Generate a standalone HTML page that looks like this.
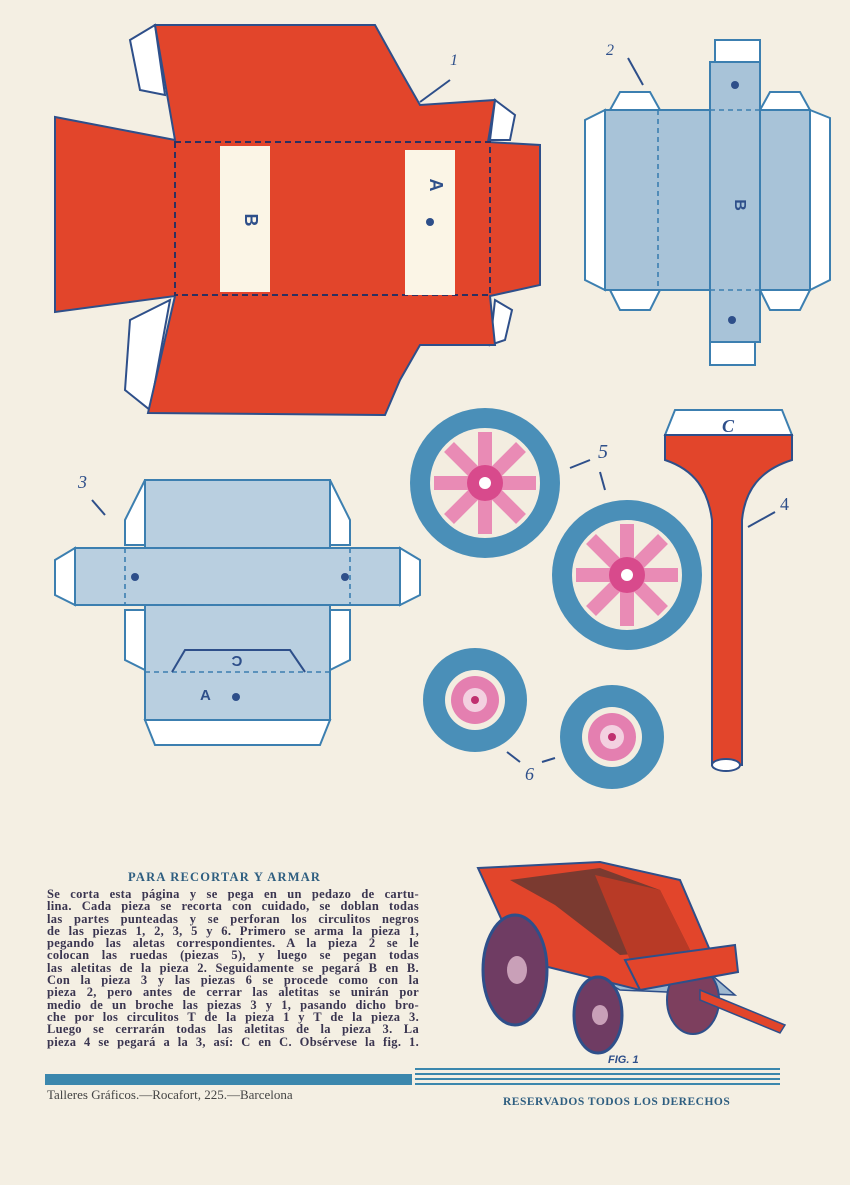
<!DOCTYPE html>
<html><head><meta charset="utf-8"><style>
body{margin:0;background:#f3eee2;}
.wrap{position:relative;width:850px;height:1185px;overflow:hidden;background:#f4efe3;}
svg{position:absolute;left:0;top:0}
.txt{position:absolute;left:47px;top:888px;width:372px;font:bold 12.5px/12.3px "Liberation Serif",serif;color:#3a3550;letter-spacing:.3px}
.txt div{text-align:justify;text-align-last:justify;white-space:nowrap;overflow:visible}
.title{position:absolute;left:128px;top:870px;font:bold 12.5px "Liberation Serif",serif;color:#2e5e80;letter-spacing:1.2px}
.f1{position:absolute;left:47px;top:1087px;font:13px "Liberation Serif",serif;color:#444}
.f2{position:absolute;left:503px;top:1096px;font:bold 11.5px "Liberation Serif",serif;color:#2e5e80;letter-spacing:.5px}
</style></head><body><div class="wrap">
<svg width="850" height="1185" viewBox="0 0 850 1185">
<g stroke="#2e4f8a" stroke-width="2" fill="#fff">
<polygon points="130,40 155,25 165,95 140,90"/>
<polygon points="495,100 515,115 510,140 490,140"/>
<polygon points="495,300 512,310 505,340 490,345"/>
<polygon points="130,320 170,300 150,410 125,390"/>
</g>
<polygon points="155,25 375,25 400,70 420,105 495,100 488,142 540,145 540,285 490,296 495,345 420,345 400,380 385,415 148,413 175,296 55,312 55,117 175,140" fill="#e2452b" stroke="#2e4f8a" stroke-width="2"/>
<rect x="175" y="142" width="315" height="153" fill="none" stroke="#2e3060" stroke-width="2" stroke-dasharray="6,4"/>
<rect x="220" y="146" width="50" height="146" fill="#fbf5e6"/>
<rect x="405" y="150" width="50" height="145" fill="#fbf5e6"/>
<text x="245" y="220" font-family="Liberation Sans" font-weight="bold" font-size="18" fill="#2e4f8a" transform="rotate(90 245 220)" text-anchor="middle">B</text>
<text x="430" y="185" font-family="Liberation Sans" font-weight="bold" font-size="18" fill="#2e4f8a" transform="rotate(90 430 185)" text-anchor="middle">A</text>
<circle cx="430" cy="222" r="4" fill="#2e4f8a"/>
<text x="450" y="65" font-family="Liberation Serif" font-style="italic" font-size="16" fill="#2e4f8a">1</text>
<line x1="450" y1="80" x2="420" y2="102" stroke="#2e4f8a" stroke-width="2"/>
<g stroke="#3c7fb0" stroke-width="2" fill="#fff">
<rect x="715" y="40" width="45" height="25"/><rect x="710" y="340" width="45" height="25"/>
<polygon points="585,120 605,110 605,290 585,280"/><polygon points="810,110 830,118 830,280 810,290"/>
<polygon points="610,110 620,92 650,92 660,110"/><polygon points="760,110 770,92 800,92 810,110"/>
<polygon points="610,290 620,310 650,310 660,290"/><polygon points="760,290 770,310 800,310 810,290"/>
</g>
<rect x="605" y="110" width="205" height="180" fill="#a8c3d8" stroke="#3c7fb0" stroke-width="2"/>
<rect x="710" y="62" width="50" height="280" fill="#a8c3d8" stroke="#3c7fb0" stroke-width="2"/>
<g stroke="#3c7fb0" stroke-width="1.6" stroke-dasharray="5,4" fill="none">
<line x1="658" y1="110" x2="658" y2="290"/><line x1="710" y1="110" x2="710" y2="290"/><line x1="760" y1="110" x2="760" y2="290"/>
<line x1="710" y1="110" x2="760" y2="110"/><line x1="710" y1="290" x2="760" y2="290"/>
</g>
<circle cx="735" cy="85" r="4" fill="#2e4f8a"/><circle cx="732" cy="320" r="4" fill="#2e4f8a"/>
<text x="735" y="205" font-family="Liberation Sans" font-weight="bold" font-size="16" fill="#2e4f8a" transform="rotate(90 735 205)" text-anchor="middle">B</text>
<text x="606" y="55" font-family="Liberation Serif" font-style="italic" font-size="16" fill="#2e4f8a">2</text>
<line x1="628" y1="58" x2="643" y2="85" stroke="#2e4f8a" stroke-width="2"/>
<g stroke="#3c7fb0" stroke-width="2" fill="#fff">
<polygon points="55,560 75,548 75,605 55,595"/><polygon points="400,548 420,560 420,595 400,605"/>
<polygon points="125,520 145,480 145,545 125,545"/><polygon points="330,480 350,520 350,545 330,545"/>
<polygon points="125,610 145,610 145,670 125,660"/><polygon points="330,610 350,610 350,660 330,670"/>
<polygon points="145,720 330,720 320,745 155,745"/>
</g>
<rect x="145" y="480" width="185" height="240" fill="#b9cfe0" stroke="#3c7fb0" stroke-width="2"/>
<rect x="75" y="548" width="325" height="57" fill="#b9cfe0" stroke="#3c7fb0" stroke-width="2"/>
<g stroke="#3c7fb0" stroke-width="1.6" stroke-dasharray="5,4" fill="none">
<line x1="145" y1="548" x2="330" y2="548"/><line x1="145" y1="605" x2="330" y2="605"/>
<line x1="145" y1="672" x2="330" y2="672"/><line x1="125" y1="548" x2="125" y2="605"/><line x1="350" y1="548" x2="350" y2="605"/>
</g>
<polyline points="172,672 185,650 290,650 305,672" fill="none" stroke="#2e4f8a" stroke-width="2"/>
<text x="237" y="668" font-family="Liberation Sans" font-weight="bold" font-size="15" fill="#2e4f8a" transform="rotate(180 237 662)" text-anchor="middle">C</text>
<text x="200" y="700" font-family="Liberation Sans" font-weight="bold" font-size="15" fill="#2e4f8a">A</text>
<circle cx="236" cy="697" r="4" fill="#2e4f8a"/><circle cx="135" cy="577" r="4" fill="#2e4f8a"/><circle cx="345" cy="577" r="4" fill="#2e4f8a"/>
<text x="78" y="488" font-family="Liberation Serif" font-style="italic" font-size="18" fill="#2e4f8a">3</text>
<line x1="92" y1="500" x2="105" y2="515" stroke="#2e4f8a" stroke-width="2"/>
<g>
<circle cx="485" cy="483" r="75" fill="#4a8fb8"/><circle cx="485" cy="483" r="55" fill="#f3ede0"/>
<g stroke="#e98bb5" stroke-width="14"><line x1="485" y1="432" x2="485" y2="534"/><line x1="434" y1="483" x2="536" y2="483"/><line x1="449" y1="447" x2="521" y2="519"/><line x1="521" y1="447" x2="449" y2="519"/></g>
<circle cx="485" cy="483" r="18" fill="#d84a8c"/><circle cx="485" cy="483" r="6" fill="#fff"/>
<circle cx="627" cy="575" r="75" fill="#4a8fb8"/><circle cx="627" cy="575" r="55" fill="#f3ede0"/>
<g stroke="#e98bb5" stroke-width="14"><line x1="627" y1="524" x2="627" y2="626"/><line x1="576" y1="575" x2="678" y2="575"/><line x1="591" y1="539" x2="663" y2="611"/><line x1="663" y1="539" x2="591" y2="611"/></g>
<circle cx="627" cy="575" r="18" fill="#d84a8c"/><circle cx="627" cy="575" r="6" fill="#fff"/>
<circle cx="475" cy="700" r="52" fill="#4a8fb8"/><circle cx="475" cy="700" r="30" fill="#f3ede0"/><circle cx="475" cy="700" r="24" fill="#e47fb0"/><circle cx="475" cy="700" r="12" fill="#f3d0e0"/><circle cx="475" cy="700" r="4" fill="#c03070"/>
<circle cx="612" cy="737" r="52" fill="#4a8fb8"/><circle cx="612" cy="737" r="30" fill="#f3ede0"/><circle cx="612" cy="737" r="24" fill="#e47fb0"/><circle cx="612" cy="737" r="12" fill="#f3d0e0"/><circle cx="612" cy="737" r="4" fill="#c03070"/>
</g>
<text x="598" y="458" font-family="Liberation Serif" font-style="italic" font-size="20" fill="#2e4f8a">5</text>
<line x1="590" y1="460" x2="570" y2="468" stroke="#2e4f8a" stroke-width="2"/><line x1="600" y1="472" x2="605" y2="490" stroke="#2e4f8a" stroke-width="2"/>
<text x="525" y="780" font-family="Liberation Serif" font-style="italic" font-size="18" fill="#2e4f8a">6</text>
<line x1="520" y1="762" x2="507" y2="752" stroke="#2e4f8a" stroke-width="2"/><line x1="542" y1="762" x2="555" y2="758" stroke="#2e4f8a" stroke-width="2"/>
<polygon points="665,435 675,410 782,410 792,435" fill="#fff" stroke="#3c7fb0" stroke-width="2"/>
<text x="722" y="432" font-family="Liberation Serif" font-style="italic" font-weight="bold" font-size="18" fill="#2e4f8a">C</text>
<path d="M665,435 L792,435 L792,460 C760,470 745,490 742,520 L742,765 L712,765 L712,520 C708,490 695,470 665,460 Z" fill="#e2452b" stroke="#2e4f8a" stroke-width="2"/>
<ellipse cx="726" cy="765" rx="14" ry="6" fill="#fff" stroke="#2e4f8a" stroke-width="2"/>
<text x="780" y="510" font-family="Liberation Serif" font-size="18" fill="#2e4f8a">4</text>
<line x1="775" y1="512" x2="748" y2="527" stroke="#2e4f8a" stroke-width="2"/>
<polygon points="560,955 700,965 735,995 620,990" fill="#9fb9d0" stroke="#2e4f8a" stroke-width="1.5"/>
<ellipse cx="693" cy="1000" rx="26" ry="34" fill="#7d3f5e" stroke="#2e4f8a" stroke-width="2"/>
<polygon points="478,868 600,862 680,880 712,955 640,990 520,960" fill="#e2452b" stroke="#2e4f8a" stroke-width="2"/>
<polygon points="510,880 600,868 660,890 690,950 620,955 555,905" fill="#7b3a30"/>
<polygon points="595,875 660,890 690,950 630,960" fill="#b83a26"/>
<polygon points="625,960 735,945 738,972 640,990" fill="#e2452b" stroke="#2e4f8a" stroke-width="2"/>
<polygon points="700,990 785,1025 780,1033 700,1000" fill="#e2452b" stroke="#2e4f8a" stroke-width="1.5"/>
<ellipse cx="515" cy="970" rx="32" ry="55" fill="#6f3c63" stroke="#2e4f8a" stroke-width="3"/>
<ellipse cx="517" cy="970" rx="10" ry="14" fill="#c9a0b8"/>
<ellipse cx="598" cy="1015" rx="24" ry="38" fill="#6f3c63" stroke="#2e4f8a" stroke-width="3"/>
<ellipse cx="600" cy="1015" rx="8" ry="10" fill="#c9a0b8"/>
<text x="608" y="1063" font-family="Liberation Sans" font-style="italic" font-weight="bold" font-size="11" fill="#2e4f8a">FIG. 1</text>
<rect x="45" y="1074" width="367" height="11" fill="#3b87ad"/>
<g stroke="#3b87ad" stroke-width="2"><line x1="415" y1="1069" x2="780" y2="1069"/><line x1="415" y1="1074" x2="780" y2="1074"/><line x1="415" y1="1079" x2="780" y2="1079"/><line x1="415" y1="1084" x2="780" y2="1084"/></g>
</svg>
<div class="title">PARA RECORTAR Y ARMAR</div>
<div class="txt">
<div>Se corta esta página y se pega en un pedazo de cartu-</div>
<div>lina. Cada pieza se recorta con cuidado, se doblan todas</div>
<div>las partes punteadas y se perforan los circulitos negros</div>
<div>de las piezas 1, 2, 3, 5 y 6. Primero se arma la pieza 1,</div>
<div>pegando las aletas correspondientes. A la pieza 2 se le</div>
<div>colocan las ruedas (piezas 5), y luego se pegan todas</div>
<div>las aletitas de la pieza 2. Seguidamente se pegará B en B.</div>
<div>Con la pieza 3 y las piezas 6 se procede como con la</div>
<div>pieza 2, pero antes de cerrar las aletitas se unirán por</div>
<div>medio de un broche las piezas 3 y 1, pasando dicho bro-</div>
<div>che por los circulitos T de la pieza 1 y T de la pieza 3.</div>
<div>Luego se cerrarán todas las aletitas de la pieza 3. La</div>
<div>pieza 4 se pegará a la 3, así: C en C. Obsérvese la fig. 1.</div>
</div>
<div class="f1">Talleres Gráficos.—Rocafort, 225.—Barcelona</div>
<div class="f2">RESERVADOS TODOS LOS DERECHOS</div>
</div></body></html>
